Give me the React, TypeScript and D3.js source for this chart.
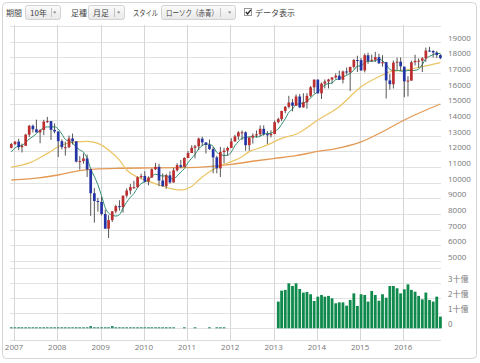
import React from "react";
import * as d3 from "d3";

// monthly OHLC, Dec 2006 .. Nov 2016
const open = [
  12221, 12460, 12621, 12269, 12355, 13063, 13628, 13409, 13212, 13358, 13896, 13930,
  13372, 13262, 12650, 12262, 12262, 12820, 12638, 11350, 11378, 11544, 10851, 9325,
  8829, 8772, 8001, 7063, 7609, 8168, 8500, 8447, 9172, 9496, 9712, 9713,
  10345, 10428, 10067, 10325, 10857, 11009, 10137, 9774, 10466, 10015, 10788, 11118,
  11006, 11578, 11892, 12226, 12320, 12811, 12570, 12414, 12143, 11614, 10913, 11955,
  12046, 12218, 12633, 12952, 13212, 13214, 12393, 12880, 13009, 13091, 13437, 13096,
  13026, 13104, 13861, 14054, 14579, 14840, 15116, 14910, 15500, 14810, 15130, 15546,
  16086, 16577, 15699, 16322, 16458, 16581, 16717, 16827, 16563, 17098, 17043, 17391,
  17828, 17823, 17165, 18133, 17776, 17841, 18011, 17620, 17690, 16528, 16285, 17664,
  17720, 17405, 16466, 16517, 17685, 17774, 17787, 17930, 18432, 18401, 18308, 18142,
];
const close = [
  12463, 12622, 12268, 12354, 13063, 13628, 13409, 13212, 13358, 13896, 13930, 13372,
  13265, 12650, 12266, 12263, 12820, 12638, 11350, 11378, 11544, 10851, 9325, 8829,
  8776, 8001, 7063, 7609, 8168, 8500, 8447, 9172, 9496, 9712, 9713, 10345,
  10428, 10067, 10325, 10857, 11009, 10137, 9774, 10466, 10015, 10788, 11118, 11006,
  11578, 11892, 12226, 12320, 12811, 12570, 12414, 12143, 11614, 10913, 11955, 12046,
  12218, 12633, 12952, 13212, 13214, 12393, 12880, 13009, 13091, 13437, 13096, 13026,
  13104, 13861, 14054, 14579, 14840, 15116, 14910, 15500, 14810, 15130, 15546, 16086,
  16577, 15699, 16322, 16458, 16581, 16717, 16827, 16563, 17098, 17043, 17391, 17828,
  17823, 17165, 18133, 17776, 17841, 18011, 17620, 17690, 16528, 16285, 17664, 17720,
  17425, 16466, 16517, 17685, 17774, 17787, 17930, 18432, 18401, 18308, 18142, 17950,
];
const high = [
  12529, 12638, 12795, 12489, 13120, 13692, 13709, 14022, 13409, 14010, 14198, 13930,
  13778, 13279, 12767, 12622, 13010, 13136, 12638, 11699, 11867, 11791, 10882, 9654,
  9026, 9088, 8280, 7925, 8197, 8588, 8878, 9172, 9630, 9918, 10120, 10406,
  10580, 10729, 10403, 10908, 11258, 11205, 10595, 10558, 10720, 10948, 11245, 11451,
  11625, 12020, 12391, 12419, 12876, 12929, 12570, 12753, 12285, 11717, 12284, 12227,
  12307, 12842, 13056, 13290, 13338, 13279, 12898, 13146, 13330, 13653, 13661, 13290,
  13346, 13969, 14149, 14585, 14888, 15542, 15340, 15634, 15658, 15709, 15721, 16174,
  16588, 16589, 16398, 16589, 16632, 16736, 16978, 17152, 17153, 17350, 17395, 17895,
  18103, 17951, 18244, 18289, 18175, 18351, 18225, 18137, 17711, 16933, 17799, 17978,
  17996, 17405, 16795, 17790, 18167, 17935, 18016, 18622, 18668, 18450, 18399, 18200,
];
const low = [
  12194, 12389, 12071, 11926, 12354, 12923, 13202, 13205, 12518, 13029, 13815, 12724,
  13151, 11635, 12123, 11731, 12200, 12439, 11288, 10827, 11209, 10365, 7882, 7449,
  8149, 7909, 7063, 6470, 7490, 8045, 8221, 8088, 9050, 9252, 9597, 9677,
  10259, 10013, 9835, 10325, 10800, 9774, 9742, 9614, 9936, 10001, 10711, 10929,
  11006, 11578, 11892, 11555, 12093, 12332, 11862, 12093, 10604, 10597, 10362, 11231,
  11735, 12218, 12609, 12740, 12710, 12036, 12036, 12492, 12878, 12977, 13000, 12471,
  12884, 13104, 13784, 13937, 14434, 14746, 14551, 14910, 14760, 14778, 14719, 15444,
  15703, 15699, 15341, 16016, 16015, 16334, 16633, 16563, 16334, 16901, 15855, 17283,
  17067, 17136, 17038, 17585, 17697, 17700, 17577, 17400, 15370, 15942, 16013, 17210,
  17139, 15451, 15503, 16500, 17484, 17331, 17063, 17713, 18355, 17992, 17959, 17884,
];

// short moving average (green), one value per month
const maShort = [
  11965, 12213, 12331, 12386, 12554, 12787, 12944, 13133, 13334, 13501, 13561, 13554,
  13564, 13423, 13097, 12763, 12653, 12527, 12267, 12090, 11946, 11552, 10890, 10385,
  9865, 9156, 8399, 8056, 7923, 7868, 7957, 8379, 8757, 9065, 9308, 9688,
  9939, 10053, 10176, 10404, 10537, 10479, 10420, 10449, 10280, 10236, 10432, 10679,
  10901, 11276, 11564, 11804, 12165, 12364, 12468, 12452, 12310, 11931, 11808, 11734,
  11749, 11953, 12361, 12612, 12846, 12881, 12930, 12942, 12917, 12962, 13103, 13132,
  13151, 13305, 13428, 13725, 14088, 14490, 14700, 14989, 15035, 15093, 15179, 15414,
  15630, 15808, 16046, 16228, 16327, 16355, 16581, 16629, 16757, 16850, 16984, 17185,
  17437, 17450, 17668, 17745, 17748, 17785, 17876, 17788, 17538, 17227, 17157, 17177,
  17124, 17112, 17158, 17163, 17173, 17246, 17539, 17922, 18065, 18172, 18243, 18247,
];

// medium (yellow) and long (orange) averages, read at a few months
const maMidMonth = [0, 5, 10, 14, 18, 21, 24, 27, 30, 32, 35, 38, 41, 44, 47, 50, 52, 55, 58, 61, 64, 66, 69, 72, 75, 79, 85, 91, 97, 103, 105, 109, 114, 119];
const maMidValue = [10990, 11260, 11870, 12400, 12610, 12630, 12510, 12090, 11440, 10810, 10350, 10100, 9850, 9640, 9540, 9760, 10170, 10700, 11080, 11340, 11660, 11980, 12230, 12510, 12830, 13090, 14000, 14850, 16120, 16870, 17080, 17190, 17400, 17660];
const maLongMonth = [0, 5, 13, 19, 23, 30, 39, 49, 61, 68, 73, 79, 85, 89, 97, 103, 109, 119];
const maLongValue = [10170, 10240, 10490, 10770, 10870, 10920, 10940, 10960, 11170, 11400, 11550, 11720, 12000, 12130, 12600, 13250, 14000, 15020];

// volume in billions, Feb 2013 .. Nov 2016
const volumeStart = 74;
const volume = [
  1.78, 2.51, 2.56, 3.0, 2.82, 3.0, 2.62, 2.38, 2.42, 2.27, 1.82, 2.11,
  2.22, 2.11, 2.16, 2.0, 1.67, 1.73, 1.73, 1.51, 1.89, 2.33, 1.49, 2.27,
  2.22, 1.78, 2.49, 2.22, 1.84, 2.27, 2.04, 2.82, 2.82, 2.67, 2.33, 2.6,
  2.93, 2.56, 2.44, 2.16, 1.93, 2.38, 1.89, 1.78, 2.11, 0.78,
];
// faint volume before 2013 (idx 0..59)
const volumeEarly = [
  0.07, 0.07, 0.07, 0.07, 0.07, 0.07, 0.07, 0.07, 0.07, 0.07, 0.07, 0.07,
  0.07, 0.07, 0.07, 0.07, 0.07, 0.07, 0.07, 0.07, 0.07, 0.07, 0.15, 0.07,
  0.07, 0.07, 0.07, 0.07, 0.15, 0.07, 0.07, 0.07, 0.07, 0.07, 0.07, 0.07,
  0.07, 0.07, 0.07, 0.07, 0.07, 0.07, 0.07, 0.07, 0.07, 0.07, 0, 0,
  0.07, 0, 0, 0.07, 0, 0, 0, 0.07, 0, 0.07, 0.07, 0.07,
];

const priceTicks = [5000, 6000, 7000, 8000, 9000, 10000, 11000, 12000, 13000, 14000, 15000, 16000, 17000, 18000, 19000];
const volumeTicks = [0, 1, 2, 3];
const volumeTickLabels = ["0", "1十億", "2十億", "3十億"];
const years = [2007, 2008, 2009, 2010, 2011, 2012, 2013, 2014, 2015, 2016];

const JP = "'Noto Sans CJK JP', sans-serif";
const NUM = "'Open Sans', sans-serif";

const Dropdown = ({ x, w, sep, label, fit }) => (
  <g>
    <rect x={x + 0.5} y={5.5} width={w} height={14} rx={2} fill="url(#btnGrad)" stroke="#d2d2d2" />
    <text x={x + 5} y={15.5} fontSize={8} fill="#444" fontFamily={JP}
      textLength={fit} lengthAdjust={fit ? "spacingAndGlyphs" : undefined}>{label}</text>
    <line x1={sep + 0.5} x2={sep + 0.5} y1={8} y2={17} stroke="#c4c4c4" />
    <path d={`M${x + w - 7},11.5 l3.4,0 l-1.7,2.2 z`} fill="#888" />
  </g>
);

export default function App() {
  const months = d3.timeMonth.range(new Date(2006, 11, 1), new Date(2016, 11, 1));
  const x = d3.scaleTime().domain([new Date(2007, 0, 1), new Date(2016, 0, 1)]).range([14, 403.3]);
  const cx = (i) => x(months[i]) + 1;
  const y = d3.scaleLinear().domain([5000, 20000]).range([261, 26]);
  const yv = d3.scaleLinear().domain([0, 4]).range([328.3, 268.3]);

  const left = 10, right = 441;
  const bw = 2.7;

  const lineShort = d3.line().x((d, i) => cx(i)).y((d) => y(d)).curve(d3.curveMonotoneX);
  const lineKey = d3.line().x((d) => cx(d[0])).y((d) => y(d[1])).curve(d3.curveMonotoneX);

  const gridPrice = [...priceTicks, 20000];
  const gridVol = [0, 1, 2, 3, 4];

  return (
    <svg width={480} height={363} style={{ position: "absolute", left: 0, top: 0 }}>
      <defs>
        <linearGradient id="btnGrad" x1="0" x2="0" y1="0" y2="1">
          <stop offset="0" stopColor="#fbfbfb" />
          <stop offset="1" stopColor="#e8e8e8" />
        </linearGradient>
      </defs>
      <rect x={0} y={0} width={480} height={363} fill="#fff" />
      <rect x={2.5} y={2.5} width={474} height={356} rx={4} fill="#fff" stroke="#d4d4d4" />

      {/* toolbar */}
      <text x={6} y={15.5} fontSize={8} fill="#444" fontFamily={JP}>期間</text>
      <Dropdown x={25} w={35} sep={51} label="10年" />
      <text x={71} y={15.5} fontSize={8} fill="#444" fontFamily={JP}>足種</text>
      <Dropdown x={88} w={36} sep={114} label="月足" />
      <text x={133} y={15.5} fontSize={8} fill="#444" fontFamily={JP} textLength={25} lengthAdjust="spacingAndGlyphs">スタイル</text>
      <Dropdown x={161} w={74} sep={220} label="ローソク（赤青）" fit={52} />
      <rect x={244.5} y={8.5} width={7} height={7} fill="#fff" stroke="#999" />
      <path d="M245.8,12 l1.8,2 l3.2,-4.2" fill="none" stroke="#222" strokeWidth={1.3} />
      <text x={255} y={15.5} fontSize={8} fill="#444" fontFamily={JP}>データ表示</text>

      {/* grid */}
      {gridPrice.map((v) => (
        <line key={"p" + v} x1={left} x2={right} y1={Math.round(y(v)) + 0.5} y2={Math.round(y(v)) + 0.5} stroke="#e2e2e2" />
      ))}
      {gridVol.map((v) => (
        <line key={"v" + v} x1={left} x2={right} y1={Math.round(yv(v)) + 0.5} y2={Math.round(yv(v)) + 0.5} stroke="#e2e2e2" />
      ))}
      <line x1={left} x2={right} y1={340.5} y2={340.5} stroke="#dcdcdc" />
      {years.map((yr) => {
        const xx = Math.round(x(new Date(yr, 0, 1))) + 0.5;
        return <line key={yr} x1={xx} x2={xx} y1={25} y2={341} stroke="#d6d6d6" />;
      })}

      {/* axis labels */}
      {priceTicks.map((v) => (
        <text key={v} x={448} y={y(v) - 1} fontSize={8} fill="#777" fontFamily={NUM}>{v}</text>
      ))}
      {volumeTicks.map((v, i) => (
        <text key={v} x={448} y={yv(v) - 1} fontSize={8} fill="#777" fontFamily={JP}>{volumeTickLabels[i]}</text>
      ))}
      {years.map((yr) => (
        <text key={yr} x={x(new Date(yr, 0, 1))} y={350} fontSize={8} fill="#777" textAnchor="middle" fontFamily={NUM}>{yr}</text>
      ))}

      {/* volume */}
      {volumeEarly.map((v, i) =>
        v > 0 ? (
          <rect key={"e" + i} x={cx(i) - 1.3} y={yv(v)} width={2.6} height={yv(0) - yv(v)} fill="#2a8a66" />
        ) : null
      )}
      {volume.map((v, i) => (
        <rect key={"vol" + i} x={cx(volumeStart + i) - 1.4} y={yv(v)} width={2.8} height={yv(0) - yv(v)} fill="#0f8a4c" />
      ))}

      {/* moving averages */}
      <path d={lineKey(maLongMonth.map((m, i) => [m, maLongValue[i]]))} fill="none" stroke="#e39a55" strokeWidth={1.3} />
      <path d={lineKey(maMidMonth.map((m, i) => [m, maMidValue[i]]))} fill="none" stroke="#ebc463" strokeWidth={1.2} />
      <path d={lineShort(maShort)} fill="none" stroke="#2f8f6f" strokeWidth={1} />

      {/* candles */}
      {close.map((c, i) => {
        const o = open[i];
        const up = c >= o;
        const top = y(Math.max(o, c));
        const bot = y(Math.min(o, c));
        return (
          <g key={"c" + i}>
            <line x1={cx(i)} x2={cx(i)} y1={y(high[i])} y2={y(low[i])} stroke="#444" strokeWidth={0.9} />
            <rect x={cx(i) - bw / 2} y={top} width={bw} height={Math.max(1, bot - top)} fill={up ? "#bd2e2e" : "#2433a6"} />
          </g>
        );
      })}
    </svg>
  );
}
